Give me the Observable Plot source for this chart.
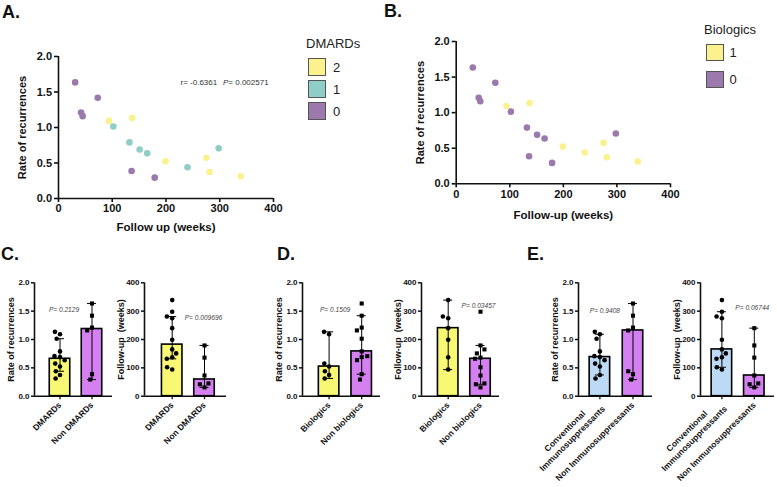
<!DOCTYPE html>
<html><head><meta charset="utf-8">
<script src="https://cdn.jsdelivr.net/npm/d3@7"></script>
<script src="https://cdn.jsdelivr.net/npm/@observablehq/plot@0.6"></script>
<style>
html,body{margin:0;padding:0;background:#fff;}
#fig{position:relative;width:777px;height:487px;overflow:hidden;background:#fff;font-family:"Liberation Sans",Arial,Helvetica,sans-serif;color:#111;}
.panel{position:absolute;font-weight:bold;font-size:18px;line-height:18px;}
.legtitle{position:absolute;font-size:13px;line-height:13px;color:#222;white-space:nowrap;}
.sw{position:absolute;border:1px solid #555;box-sizing:border-box;}
.swl{position:absolute;font-size:13px;line-height:13px;color:#222;}
</style></head><body><div id="fig"></div>
<script>
const followUp = [31, 73, 42, 45, 136, 179, 94, 137, 199, 275, 281, 339, 102, 132, 151, 165, 240, 298];
const rate = [1.635, 1.42, 1.21, 1.16, 0.388, 0.294, 1.093, 1.135, 0.523, 0.575, 0.374, 0.313, 1.014, 0.79, 0.69, 0.636, 0.44, 0.706];
const dmards = [0, 0, 0, 0, 0, 0, 2, 2, 2, 2, 2, 2, 1, 1, 1, 1, 1, 1];
const biologics = [0, 0, 0, 0, 0, 0, 1, 1, 1, 1, 1, 1, 0, 0, 0, 0, 1, 0];
const conventional = [0, 0, 0, 0, 0, 0, 1, 1, 1, 1, 1, 1, 1, 1, 1, 1, 0, 1];

// ---- tick labels ----
const scatterXTicks = [0, 100, 200, 300, 400];
const rateTicks = [0, 0.5, 1, 1.5, 2];
const followTicks = [0, 100, 200, 300, 400];

// ---- legends / annotation ----
const dmardsLevels = [2, 1, 0];
const biologicsLevels = [1, 0];
const correlationText = ["r= -0.6361", "P", "= 0.002571"];

// ---- bar-chart categories ----
const groupsC = ["DMARDs", "Non DMARDs"];
const groupsD = ["Biologics", "Non biologics"];
const groupsE = ["Conventional\nImmunosuppressants", "Non Immunosuppressants"];

// ---- bar heights (median) and error-bar ends ----
const rateMedianC = [0.66, 1.185], rateLowC = [0.44, 0.294], rateHighC = [1.014, 1.635];
const followMedianC = [182, 59], followLowC = [132, 31], followHighC = [281, 179];
const rateMedianD = [0.523, 0.79], rateLowD = [0.313, 0.388], rateHighD = [1.135, 1.42];
const followMedianD = [240, 132], followLowD = [94, 42], followHighD = [339, 179];
const rateMedianE = [0.69, 1.16], rateLowE = [0.374, 0.294], rateHighE = [1.093, 1.635];
const followMedianE = [165, 73], followLowE = [102, 31], followHighE = [298, 240];

const pValues = ["P= 0.2129", "P= 0.009696", "P= 0.1509", "P= 0.03457", "P= 0.9408", "P= 0.06744"];

// ---- colours ----
const scatterColorsA = ["#FBF18F", "#8FCEC6", "#9C79AD"];
const scatterColorsB = ["#FBF18F", "#9C79AD"];
const yellowBar = "#F8F874", purpleBar = "#D580F0", blueBar = "#BCDAF5";

const FONT = "'Liberation Sans', Arial, Helvetica, sans-serif";
const fig = document.getElementById("fig");
function place(el, left, top) {
  el.style.position = "absolute";
  el.style.left = left + "px";
  el.style.top = top + "px";
  fig.appendChild(el);
}
function div(cls, text, left, top, extra = {}) {
  const d = document.createElement("div");
  d.className = cls;
  if (text != null) d.textContent = text;
  d.style.left = left + "px";
  d.style.top = top + "px";
  Object.assign(d.style, extra);
  fig.appendChild(d);
  return d;
}
const measureCtx = document.createElement("canvas").getContext("2d");
function textWidth(t, font) { measureCtx.font = font; return measureCtx.measureText(t).width; }

const patients = followUp.map((f, i) => ({follow: f, rate: rate[i], dmards: dmards[i], biologics: biologics[i]}));

function scatter(s) {
  const plot = Plot.plot({
    width: s.width, height: s.height,
    marginLeft: s.ML, marginRight: s.MR, marginTop: s.MT, marginBottom: s.height - s.MT - s.FH,
    style: {background: "none", overflow: "visible", fontFamily: FONT, color: "#111"},
    x: {domain: [0, 400], axis: null},
    y: {domain: [0, 2], axis: null},
    color: {type: "ordinal", domain: s.levels, range: s.colors},
    marks: [
      Plot.ruleY([0], {strokeWidth: 1.6}),
      Plot.ruleX([0], {strokeWidth: 1.6}),
      Plot.axisX({ticks: scatterXTicks, tickSize: 4, tickPadding: 2, strokeWidth: 1.6, fontSize: 11, fontWeight: "bold", label: null}),
      Plot.axisY({ticks: rateTicks, tickFormat: d3.format(".1f"), tickSize: 4, tickPadding: 2.5, strokeWidth: 1.6, fontSize: 11, fontWeight: "bold", label: null}),
      Plot.dot(patients, {x: "follow", y: "rate", fill: s.key, r: 3.3}),
      Plot.text(["Rate of recurrences"], {frameAnchor: "left", rotate: -90, dx: -36, textAnchor: "middle", lineAnchor: "middle", fontSize: 11, fontWeight: "bold"}),
      Plot.text([s.xTitle], {frameAnchor: "bottom", dy: s.xTitleDy, textAnchor: "middle", lineAnchor: "middle", fontSize: 11.5, fontWeight: "bold"}),
      ...(s.annotate ? [
        Plot.text([correlationText[0]], {x: () => 227, y: () => 1.63, textAnchor: "start", fontSize: 8, fill: "#333"}),
        Plot.text([correlationText[1]], {x: () => 316, y: () => 1.63, textAnchor: "end", fontSize: 8, fontStyle: "italic", fill: "#333"}),
        Plot.text([correlationText[2]], {x: () => 316, y: () => 1.63, textAnchor: "start", fontSize: 8, fill: "#333"})
      ] : [])
    ]
  });
  place(plot, s.left, s.top);
}

scatter({left: 0, top: 40, width: 290, height: 200, ML: 58, MR: 17, MT: 16, FH: 142, key: "dmards",
  levels: dmardsLevels, colors: scatterColorsA, xTitle: "Follow up (weeks)", xTitleDy: 29, annotate: true});
scatter({left: 400, top: 25, width: 287, height: 200, ML: 55.7, MR: 17, MT: 16, FH: 142.3, key: "biologics",
  levels: biologicsLevels, colors: scatterColorsB, xTitle: "Follow-up (weeks)", xTitleDy: 31.5, annotate: false});

// legends (HTML)
div("legtitle", "DMARDs", 306, 36.5);
dmardsLevels.forEach((lv, i) => {
  div("sw", null, 307.5, 57.5 + i * 22, {width: "18.5px", height: "18.5px", background: scatterColorsA[i]});
  div("swl", String(lv), 333, 60.5 + i * 22);
});
div("legtitle", "Biologics", 704, 23);
biologicsLevels.forEach((lv, i) => {
  div("sw", null, 706, 43.5 + i * 27, {width: "17.5px", height: "17.5px", background: scatterColorsB[i]});
  div("swl", String(lv), 729.5, 46 + i * 27);
});

// layout of the small bar charts (pixels): bar centres measured from the y axis
function barChart(s) {
  const ML = s.ML, MR = 8, MT = 12.3, FH = 113.4, H = 217;
  const fw = s.W / 2, bw = 20.5, capW = 9;
  const labelSize = 8.5, labelFont = `bold ${labelSize}px ${FONT}`, lineGap = 10.5;
  const summary = s.groups.map((g, i) => ({group: g, median: s.med[i], lo: s.lo[i], hi: s.hi[i]}));
  const values = s.groups.map((g, gi) => s.field.filter((v, i) => s.member(i) === gi));
  const marks = [Plot.ruleY([s.domain[0]], {strokeWidth: 1.6})];
  s.groups.forEach((g, gi) => {
    const c = s.centers[gi] - gi * fw;   // centre within its facet
    const off = c - fw / 2;
    const row = [summary[gi]];
    marks.push(
      Plot.barY(row, {fx: "group", y: "median", fill: s.colors[gi], stroke: "black", strokeWidth: 1.6,
        insetLeft: c - bw / 2, insetRight: fw - c - bw / 2}),
      Plot.ruleX(row, {fx: "group", x: null, y1: "lo", y2: "hi", dx: off, stroke: "black", strokeWidth: 1}),
      Plot.tickY(row, {fx: "group", y: "lo", insetLeft: c - capW / 2, insetRight: fw - c - capW / 2, strokeWidth: 1.1}),
      Plot.tickY(row, {fx: "group", y: "hi", insetLeft: c - capW / 2, insetRight: fw - c - capW / 2, strokeWidth: 1.1}),
      Plot.dot(values[gi], Plot.dodgeX("middle", {fx: () => g, y: (d) => d, r: 2.3,
        symbol: gi === 0 ? "circle" : "square", fill: "black", padding: 0.4, dx: off})),
      Plot.ruleX(row, {fx: "group", x: null, y1: () => s.domain[0], y2: () => s.domain[0], dx: off, insetBottom: -3.5, strokeWidth: 1.3})
    );
    // rotated category label; multi-line labels have their lines centred on each other
    const lines = g.split("\n");
    const widths = lines.map((t) => textWidth(t, labelFont));
    const maxW = Math.max(...widths);
    lines.forEach((t, k) => {
      const shift = (maxW - widths[k]) / 2;
      const perp = (k - (lines.length - 1) / 2) * lineGap;
      const ex = (-shift + perp) * Math.SQRT1_2;
      const ey = (shift + perp) * Math.SQRT1_2;
      marks.push(Plot.text([t], {fx: () => g, frameAnchor: "bottom", rotate: -45, textAnchor: "end", lineAnchor: "middle",
        dx: off + ex, dy: 7.5 + ey, fontSize: labelSize, fontWeight: "bold"}));
    });
    if (gi === s.pGroup) {
      marks.push(Plot.text([s.p], {fx: () => g, y: () => s.pY, dx: off + s.pDx, fontSize: 6.6, fontStyle: "italic", fill: "#444"}));
    }
  });
  marks.push(
    Plot.ruleX([s.domain[0]], {fx: () => s.groups[0], x: null, y1: () => s.domain[0], y2: () => s.domain[1], dx: -fw / 2, strokeWidth: 1.6}),
    Plot.axisY({ticks: s.ticks, tickFormat: s.fmt, tickSize: 3, tickPadding: 2, strokeWidth: 1.5, fontSize: 8, fontWeight: "bold", label: null}),
    Plot.text([s.title], {fx: () => s.groups[0], frameAnchor: "left", rotate: -90, dx: -23.5, textAnchor: "middle", lineAnchor: "middle", fontSize: 9, fontWeight: "bold"})
  );
  const plot = Plot.plot({
    width: ML + s.W + MR, height: H,
    marginLeft: ML, marginRight: MR, marginTop: MT, marginBottom: H - MT - FH,
    style: {background: "none", overflow: "visible", fontFamily: FONT, color: "#111"},
    fx: {domain: s.groups, padding: 0, axis: null, label: null},
    y: {domain: s.domain, axis: null},
    marks
  });
  place(plot, s.x0 - ML, 282.3 - MT);
}

const fmtRate = d3.format(".1f");
const fmtFollow = d3.format("d");
const memberC = (i) => (dmards[i] > 0 ? 0 : 1);
const memberD = (i) => (biologics[i] > 0 ? 0 : 1);
const memberE = (i) => (conventional[i] > 0 ? 0 : 1);

barChart({x0: 34, ML: 33, W: 78, centers: [25.5, 57.5], groups: groupsC, member: memberC, field: rate,
  med: rateMedianC, lo: rateLowC, hi: rateHighC, colors: [yellowBar, purpleBar], domain: [0, 2], ticks: rateTicks, fmt: fmtRate,
  title: "Rate of recurrences", p: pValues[0], pGroup: 0, pY: 1.52, pDx: 4});
barChart({x0: 144, ML: 40, W: 82, centers: [27.7, 60], groups: groupsC, member: memberC, field: followUp,
  med: followMedianC, lo: followLowC, hi: followHighC, colors: [yellowBar, purpleBar], domain: [0, 400], ticks: followTicks, fmt: fmtFollow,
  title: "Follow-up  (weeks)", p: pValues[1], pGroup: 1, pY: 276, pDx: -1});
barChart({x0: 301.7, ML: 40, W: 78, centers: [26.6, 59.2], groups: groupsD, member: memberD, field: rate,
  med: rateMedianD, lo: rateLowD, hi: rateHighD, colors: [yellowBar, purpleBar], domain: [0, 2], ticks: rateTicks, fmt: fmtRate,
  title: "Rate of recurrences", p: pValues[2], pGroup: 0, pY: 1.52, pDx: 6});
barChart({x0: 421, ML: 40, W: 78, centers: [26.7, 59], groups: groupsD, member: memberD, field: followUp,
  med: followMedianD, lo: followLowD, hi: followHighD, colors: [yellowBar, purpleBar], domain: [0, 400], ticks: followTicks, fmt: fmtFollow,
  title: "Follow-up  (weeks)", p: pValues[3], pGroup: 1, pY: 317, pDx: -2});
barChart({x0: 578.3, ML: 62, W: 74, centers: [21.4, 54.5], groups: groupsE, member: memberE, field: rate,
  med: rateMedianE, lo: rateLowE, hi: rateHighE, colors: [blueBar, purpleBar], domain: [0, 2], ticks: rateTicks, fmt: fmtRate,
  title: "Rate of recurrences", p: pValues[4], pGroup: 0, pY: 1.506, pDx: 5});
barChart({x0: 700, ML: 62, W: 74, centers: [21.4, 53.8], groups: groupsE, member: memberE, field: followUp,
  med: followMedianE, lo: followLowE, hi: followHighE, colors: [blueBar, purpleBar], domain: [0, 400], ticks: followTicks, fmt: fmtFollow,
  title: "Follow-up  (weeks)", p: pValues[5], pGroup: 1, pY: 312, pDx: -2});

// panel letters
div("panel", "A.", 2, 3);
div("panel", "B.", 384, 2);
div("panel", "C.", 1, 245);
div("panel", "D.", 277, 245);
div("panel", "E.", 527, 245);
</script></body></html>
